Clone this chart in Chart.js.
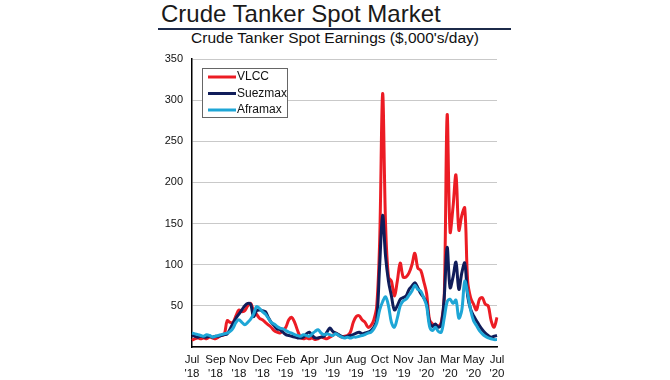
<!DOCTYPE html>
<html lang="en">
<head>
  <meta charset="UTF-8">
  <title>Crude Tanker Spot Market</title>
  <script src="https://cdn.jsdelivr.net/npm/chart.js"></script>
  <style>
    body { margin: 0; background: #fff; font-family: "Liberation Sans", Arial, sans-serif; }
    #wrap { position: relative; width: 670px; height: 380px; overflow: hidden; }
    #title {
      position: absolute; left: 161px; top: 2px;
      font-size: 24px; line-height: 24px; color: #1a1a1a; white-space: nowrap;
    }
    #rule {
      position: absolute; left: 158px; top: 28px; width: 353px; height: 2px;
      background: #1c2a4a;
    }
    #subtitle {
      position: absolute; left: 135px; top: 30px; width: 400px; text-align: center;
      font-size: 15.5px; line-height: 15.5px; color: #111; white-space: nowrap;
    }
    canvas { position: absolute; left: 0; top: 0; }
  </style>
</head>
<body>

<div id="wrap">
  <div id="title">Crude Tanker Spot Market</div>
  <div id="rule"></div>
  <div id="subtitle">Crude Tanker Spot Earnings ($,000's/day)</div>
  <canvas id="tankerChart" width="670" height="380"></canvas>
</div>

<script>
  // x labels every 8 weeks, Jul '18 .. Jul '20
  const tickLabels = [
    ["Jul", "'18"], ["Sep", "'18"], ["Nov", "'18"], ["Dec", "'18"], ["Feb", "'19"],
    ["Apr", "'19"], ["Jun", "'19"], ["Aug", "'19"], ["Oct", "'19"], ["Nov", "'19"],
    ["Jan", "'20"], ["Mar", "'20"], ["May", "'20"], ["Jul", "'20"]
  ];

  const seriesNames = ["VLCC", "Suezmax", "Aframax"];

  // weekly spot earnings, $000/day
  const vlcc = [
    8, 10, 11, 10, 11, 10, 12, 11, 10, 12, 14, 15, 32, 30, 30, 38, 45, 43, 44, 50,
    53, 44, 40, 35, 33, 30, 27, 24, 20, 18, 17, 20, 24, 33, 36, 30, 20, 12, 10, 11,
    10, 11, 9, 10, 12, 11, 10, 12, 14, 17, 14, 12, 13, 14, 18, 30, 37, 38, 33, 30,
    24, 26, 33, 50, 130, 308, 150, 85, 80, 62, 80, 102, 85, 85, 90, 100, 114, 96, 93, 80,
    65, 33, 28, 26, 25, 30, 60, 282, 140, 170, 209, 142, 160, 169, 80, 60, 52, 45, 58, 60,
    52, 50, 32, 24, 36
  ];
  const suezmax = [
    14, 13, 12, 13, 12, 12, 13, 12, 13, 13, 14, 15, 16, 22, 29, 35, 40, 45, 50, 53,
    52, 37, 44, 45, 44, 43, 36, 30, 26, 22, 21, 18, 15, 14, 13, 12, 11, 11, 12, 16,
    18, 14, 11, 11, 12, 13, 18, 23, 19, 17, 15, 13, 12, 13, 14, 15, 17, 18, 16, 17,
    18, 20, 24, 33, 100, 160, 110, 80, 62, 45, 50, 58, 60, 62, 70, 74, 78, 72, 65, 60,
    53, 30, 25, 28, 24, 27, 60, 121, 72, 85, 103, 70, 90, 102, 62, 46, 38, 32, 26, 21,
    17, 14, 12, 13, 14
  ];
  const aframax = [
    17, 16, 15, 14, 13, 15, 14, 12, 13, 14, 15, 16, 17, 19, 23, 30, 33, 30, 27, 30,
    34, 40, 49, 47, 43, 40, 35, 30, 28, 25, 23, 22, 20, 18, 17, 15, 14, 13, 15, 14,
    13, 16, 19, 21, 17, 15, 16, 15, 14, 16, 14, 12, 11, 12, 11, 12, 12, 13, 14, 15,
    17, 18, 22, 29, 45, 55, 61, 50, 30, 24, 35, 50, 56, 58, 63, 68, 75, 70, 68, 60,
    50, 25, 20, 24, 19, 18, 35, 55, 58, 53, 57, 35, 45, 80, 65, 45, 32, 26, 20, 16,
    13, 11, 10, 9, 9
  ];

  const yTicks = [50, 100, 150, 200, 250, 300, 350];

  const weeks = vlcc.map((v, i) => i);

  // legend box drawn inside the plot, top left
  const boxLegend = {
    id: 'boxLegend',
    afterDraw(chart) {
      const ctx = chart.ctx;
      const x = 202, y = 68, w = 85, h = 49;
      ctx.save();
      ctx.fillStyle = '#fff';
      ctx.fillRect(x, y, w, h);
      ctx.strokeStyle = '#666';
      ctx.lineWidth = 1;
      ctx.strokeRect(x + 0.5, y + 0.5, w, h);
      ctx.font = '12px "Liberation Sans", Arial, sans-serif';
      ctx.textBaseline = 'middle';
      chart.data.datasets.forEach((ds, i) => {
        const ry = y + 9 + i * 16.5;
        ctx.strokeStyle = ds.borderColor;
        ctx.lineWidth = 3;
        ctx.beginPath();
        ctx.moveTo(x + 6, ry);
        ctx.lineTo(x + 34, ry);
        ctx.stroke();
        ctx.fillStyle = '#111';
        ctx.fillText(ds.label, x + 35, ry);
      });
      ctx.restore();
    }
  };

  const ctx = document.getElementById('tankerChart').getContext('2d');
  const chart = new Chart(ctx, {
    type: 'line',
    data: {
      labels: weeks,
      datasets: [
        { label: seriesNames[0], data: vlcc, borderColor: '#ec1c24', order: 2 },
        { label: seriesNames[1], data: suezmax, borderColor: '#101d5a', order: 1 },
        { label: seriesNames[2], data: aframax, borderColor: '#1ea6d6', order: 0 }
      ]
    },
    options: {
      responsive: false,
      animation: false,
      layout: { padding: { left: 150, right: 173, top: 59, bottom: 0 } },
      elements: {
        line: { borderWidth: 3, tension: 0.35, fill: false },
        point: { radius: 0 }
      },
      plugins: { legend: { display: false }, tooltip: { enabled: false } },
      scales: {
        x: {
          grid: { display: false, drawTicks: false },
          border: { color: '#000', width: 1.5 },
          ticks: {
            autoSkip: false, maxRotation: 0, padding: 6, color: '#111',
            font: { family: '"Liberation Sans", Arial, sans-serif', size: 11.5 },
            callback: (v, i) => (i % 8 === 0 ? tickLabels[i / 8] : null)
          },
          afterFit: s => { s.height = 33; }
        },
        y: {
          min: 0, max: 350,
          grid: { color: '#c9c9c9', lineWidth: 1, drawTicks: false },
          border: { color: '#000', width: 1.5 },
          afterBuildTicks: s => { s.ticks = [0].concat(yTicks).map(v => ({ value: v })); },
          ticks: {
            padding: 9, color: '#111',
            font: { family: '"Liberation Sans", Arial, sans-serif', size: 11 },
            callback: v => (v === 0 ? '' : v)
          },
          afterFit: s => { s.width = 42; }
        }
      }
    },
    plugins: [boxLegend]
  });
</script>

</body>
</html>
